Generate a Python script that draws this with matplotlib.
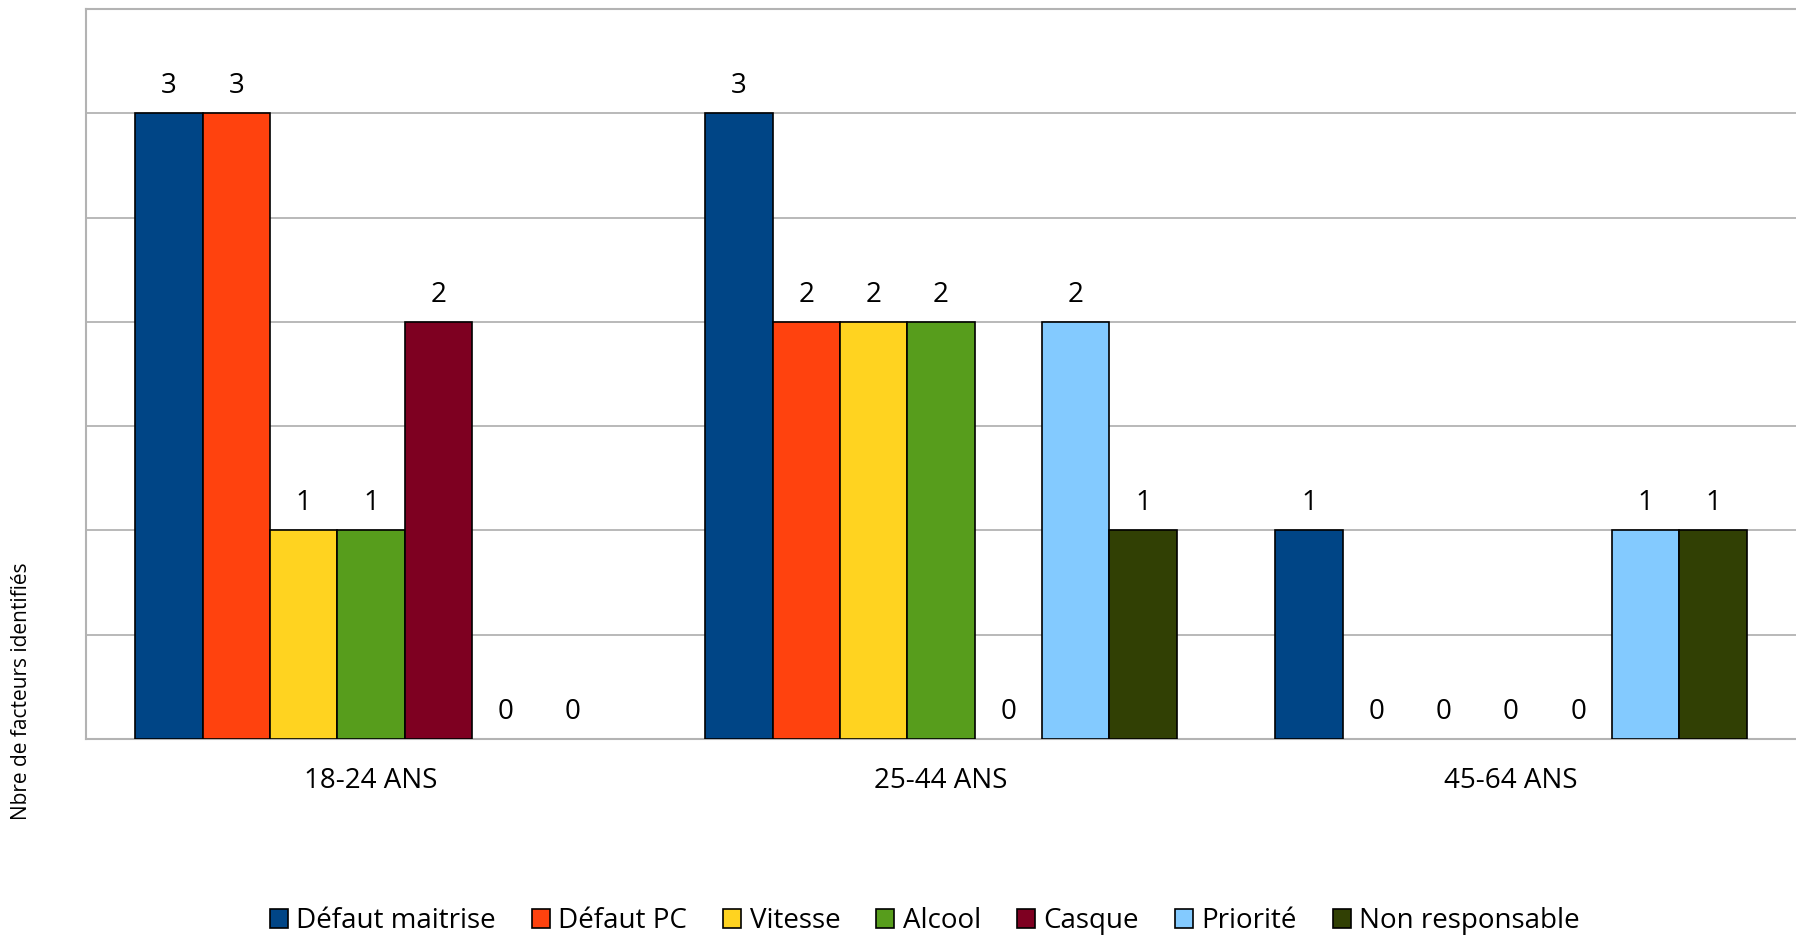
import numpy as np
import matplotlib
matplotlib.use("Agg")
import matplotlib.pyplot as plt
from matplotlib.patches import Patch

plt.rcParams['font.family'] = ['Open Sans', 'DejaVu Sans']

categories = ["18-24 ANS", "25-44 ANS", "45-64 ANS"]
series_names = ["Défaut maitrise", "Défaut PC", "Vitesse", "Alcool",
                "Casque", "Priorité", "Non responsable"]
values = [
    [3, 3, 1],        # Défaut maitrise
    [3, 2, 0],        # Défaut PC
    [1, 2, 0],        # Vitesse
    [1, 2, 0],        # Alcool
    [2, 0, 0],        # Casque
    [0, 2, 1],        # Priorité
    [0, 1, 1],        # Non responsable
]
colors = ["#004586", "#ff420e", "#ffd320", "#579d1c",
          "#7e0021", "#83caff", "#314004"]

fig = plt.figure(figsize=(17.96, 9.36), dpi=100)
ax = fig.add_axes([0.0479, 0.2105, 0.9521, 0.7799])

x = np.arange(len(categories))
n = len(series_names)
w = 0.827 / n
for i, (name, vals, c) in enumerate(zip(series_names, values, colors)):
    pos = x - 0.827 / 2 + w * (i + 0.5)
    bars = ax.bar(pos, vals, w, color=c, edgecolor="black", linewidth=1.2,
                  zorder=3)
    for b, v in zip(bars, vals):
        if v == 0:
            b.set_linewidth(0)
        ax.annotate(str(v), (b.get_x() + b.get_width() / 2, v),
                    xytext=(0, 19.5), textcoords="offset points",
                    ha="center", va="center", fontsize=20)

ax.set_xlim(-0.5, 2.5)
ax.set_ylim(0, 3.5)
ax.set_yticks(np.arange(0, 3.6, 0.5))
ax.set_yticklabels([])
ax.tick_params(axis="y", length=0)
ax.set_xticks(x)
ax.set_xticklabels(categories, fontsize=20)
ax.tick_params(axis="x", length=0, pad=20)
ax.grid(axis="y", color="#b3b3b3", linewidth=1.3, zorder=0)
for s in ["left", "bottom", "top"]:
    ax.spines[s].set_color("#b3b3b3")
    ax.spines[s].set_linewidth(1.5)
ax.spines["right"].set_visible(False)

fig.text(0.012, 0.262, "Nbre de facteurs identifiés", rotation=90,
         ha="center", va="center", fontsize=15)

handles = [Patch(facecolor=c, edgecolor="black", linewidth=1.2, label=name)
           for name, c in zip(series_names, colors)]
fig.legend(handles=handles, loc="center", bbox_to_anchor=(0.515, 0.016),
           ncol=7, frameon=False, fontsize=20, handlelength=0.65,
           handleheight=0.65, handletextpad=0.3, columnspacing=1.3)

fig.savefig("out.png", dpi=100)
